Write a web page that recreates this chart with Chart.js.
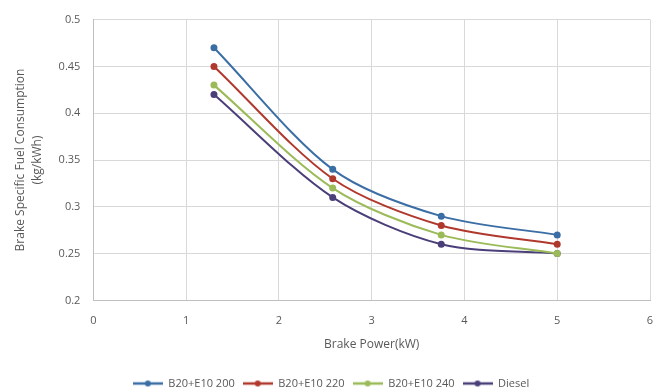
<!DOCTYPE html>
<html>
<head>
<meta charset="utf-8">
<script src="https://cdn.jsdelivr.net/npm/chart.js@4"></script>
<style>
  body { margin: 0; background: #fff; }
  #wrap { width: 662px; height: 389px; }
</style>
</head>
<body>
<div id="wrap"><canvas id="chart_bsfc"></canvas></div>
<script>
const brakePower = [1.3, 2.58, 3.75, 5];
const b20e10_200 = [0.47, 0.34, 0.29, 0.27];
const b20e10_220 = [0.45, 0.33, 0.28, 0.26];
const b20e10_240 = [0.43, 0.32, 0.27, 0.25];
const diesel = [0.42, 0.31, 0.26, 0.25];

const seriesNames = ['B20+E10 200', 'B20+E10 220', 'B20+E10 240', 'Diesel'];
const seriesValues = [b20e10_200, b20e10_220, b20e10_240, diesel];
const colors = ['#3A6EA5', '#B0392E', '#9BBB59', '#4B3F7A'];

const toPoints = vals => vals.map((v, i) => ({ x: brakePower[i], y: v }));

// little line-with-dot marker for the legend, like Excel does
function legendMarker(color) {
    const c = document.createElement('canvas');
    c.width = 30;
    c.height = 8;
    const g = c.getContext('2d');
    g.strokeStyle = color;
    g.lineWidth = 2.5;
    g.beginPath();
    g.moveTo(0, 4);
    g.lineTo(30, 4);
    g.stroke();
    g.fillStyle = color;
    g.beginPath();
    g.arc(15, 4, 3, 0, Math.PI * 2);
    g.fill();
    return c;
}

Chart.defaults.font.family = '"Open Sans", Lato, sans-serif';
Chart.defaults.color = '#595959';

const ctx = document.querySelector('#chart_bsfc').getContext('2d');
const chart = new Chart(ctx, {
    type: 'scatter',
    data: {
        datasets: seriesValues.map((vals, i) => ({
            label: seriesNames[i],
            data: toPoints(vals),
            showLine: true,
            borderColor: colors[i],
            backgroundColor: colors[i],
            borderWidth: 2,
            pointRadius: 2.5,
            pointStyle: 'circle',
            tension: 0.3
        }))
    },
    options: {
        responsive: true,
        maintainAspectRatio: false,
        animation: false,
        layout: { padding: { left: 12, right: 12, top: 4, bottom: -10 } },
        scales: {
            x: {
                min: 0,
                max: 6,
                afterFit: s => { s.paddingRight = 0; },
                ticks: { stepSize: 1, font: { size: 11 }, padding: 14 },
                grid: { color: '#d9d9d9', drawTicks: false },
                border: { color: '#bfbfbf' },
                title: { display: true, text: 'Brake Power(kW)', font: { size: 12 }, padding: { top: -4, bottom: 18 } }
            },
            y: {
                min: 0.2,
                max: 0.5,
                ticks: {
                    stepSize: 0.05,
                    font: { size: 11 },
                    padding: 13,
                    callback: v => String(Math.round(v * 100) / 100)
                },
                grid: { color: '#d9d9d9', drawTicks: false },
                border: { color: '#bfbfbf' },
                title: {
                    display: true,
                    text: ['Brake Specific Fuel Consumption', '(kg/kWh)'],
                    font: { size: 12, lineHeight: 1.4 },
                    padding: 0
                }
            }
        },
        plugins: {
            legend: {
                position: 'bottom',
                labels: {
                    usePointStyle: true,
                    pointStyleWidth: 30,
                    boxHeight: 8,
                    generateLabels: c => c.data.datasets.map((ds, i) => ({
                        text: ds.label,
                        pointStyle: legendMarker(colors[i]),
                        fontColor: '#595959',
                        datasetIndex: i,
                        lineWidth: 0
                    })),
                    font: { size: 11 },
                    padding: 8
                }
            },
            tooltip: { enabled: false }
        }
    }
});
</script>
</body>
</html>
